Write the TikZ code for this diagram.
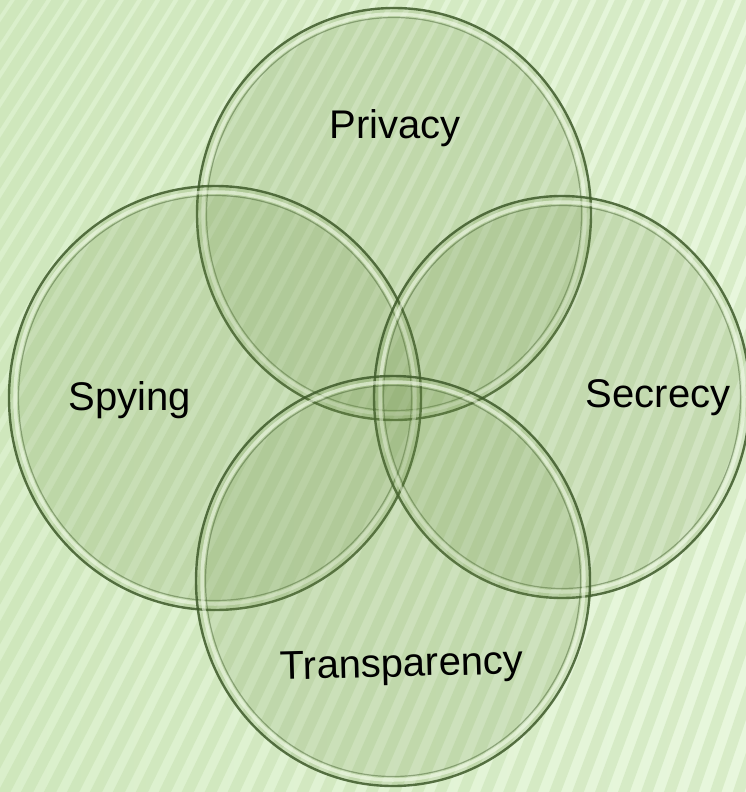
\documentclass[tikz,border=0pt]{standalone}
\usepackage{fontspec}
\setmainfont{Liberation Sans}
\definecolor{bgleft}{HTML}{DAEFCB}
\definecolor{bgright}{HTML}{E8F7DD}
\definecolor{stripecol}{HTML}{BCD9A3}
\definecolor{glassfill}{HTML}{6E8F48}
\definecolor{rimdark}{HTML}{3E5A2A}
\definecolor{rimlight}{HTML}{F2FBE8}
\tikzset{
  stripe/.style={line width=11pt, stripecol, opacity=0.36},
  glassbody/.style={fill=glassfill, fill opacity=0.18, draw=rimdark, draw opacity=0.85, line width=2.4pt},
  glasshl/.style={draw=rimlight, draw opacity=0.6, line width=3.5pt},
  glassinner/.style={draw=rimdark, draw opacity=0.45, line width=1.2pt},
  lbl/.style={font=\fontsize{40}{44}\selectfont, text=black, inner sep=0pt}
}
\newcommand{\glassring}[4]{%
  \path[glassbody] (#1,#2) ellipse [x radius=#3, y radius=#4];
  \path[glasshl] (#1,#2) ellipse [x radius=#3-6, y radius=#4-6];
  \path[glassinner] (#1,#2) ellipse [x radius=#3-9.5, y radius=#4-9.5];
}
\begin{document}
\begin{tikzpicture}[x=1pt,y=-1pt]
\useasboundingbox (0,0) rectangle (746,792);
\shade[left color=bgleft, right color=bgright] (0,0) rectangle (746,792);
\begin{scope}
\clip (0,0) rectangle (746,792);
\coordinate (focus) at (2000,-3000);
\foreach \i in {-32,...,33} {
  \coordinate (sb) at (\i*23,800);
  \draw[stripe] (focus) -- (sb);
}
\glassring{394}{214}{197}{206}
\glassring{215}{398}{206}{212}
\glassring{562}{397}{188}{201}
\glassring{393}{581}{197}{205}
\end{scope}
\node[lbl] (privacy) at (395,128) {Privacy};
\node[lbl] (spying) at (130,400) {Spying};
\node[lbl] (secrecy) at (658,398) {Secrecy};
\node[lbl, rotate=1.5] (transparency) at (402,667) {Transparency};
\end{tikzpicture}
\end{document}
